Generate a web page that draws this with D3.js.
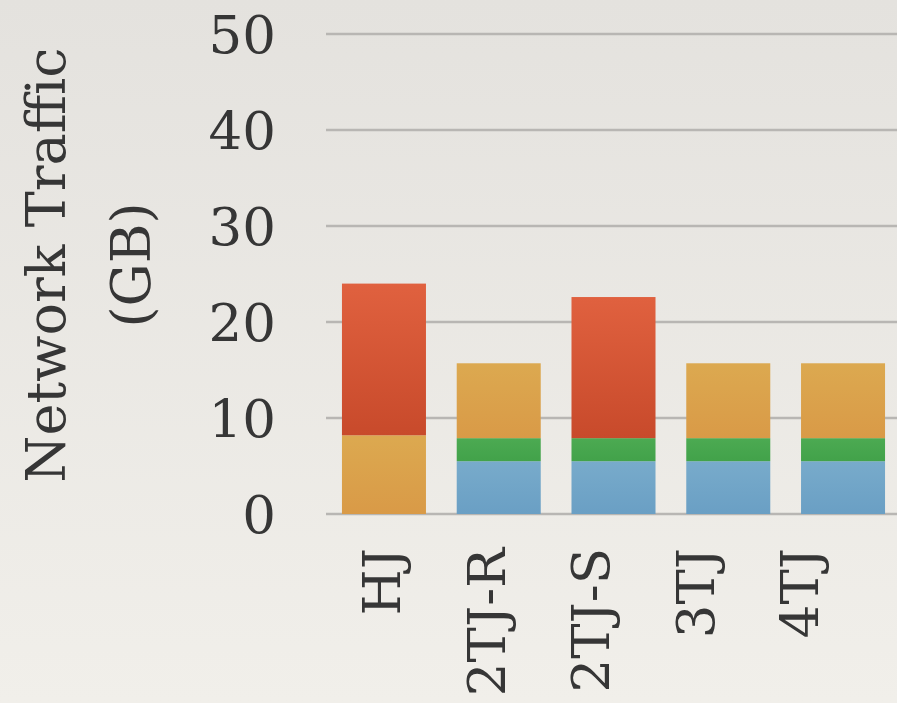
<!DOCTYPE html>
<html><head><meta charset="utf-8">
<script src="https://cdn.jsdelivr.net/npm/d3@7"></script>
<style>html,body{margin:0;padding:0;overflow:hidden;}</style>
</head><body>
<svg id="c" width="897" height="703"></svg>
<script>
const categories = ["HJ", "2TJ-R", "2TJ-S", "3TJ", "4TJ"];
const seriesNames = ["blue", "green", "orange", "red"];
const blueVals   = [0,   5.5, 5.5, 5.5, 5.5];
const greenVals  = [0,   2.4, 2.4, 2.4, 2.4];
const orangeVals = [8.2, 7.8, 0,   7.8, 7.8];
const redVals    = [15.8, 0,  14.7, 0,  0];
const yTicks = [0, 10, 20, 30, 40, 50];
const yTitle = ["Network Traffic", "(GB)"];

const svg = d3.select("#c");
const W = 897, H = 703;
const defs = svg.append("defs");
const bg = defs.append("linearGradient").attr("id","bg").attr("x1",0).attr("y1",0).attr("x2",0).attr("y2",1);
bg.append("stop").attr("offset","0%").attr("stop-color","#e4e2de");
bg.append("stop").attr("offset","100%").attr("stop-color","#f1efea");
svg.append("rect").attr("width",W).attr("height",H).attr("fill","url(#bg)");

const palette = {
  blue:["#78abcb","#6a9fc4"], green:["#4caa52","#42a24a"],
  orange:["#dca950","#d99a47"], red:["#e0613f","#c84a2b"]
};
seriesNames.forEach(s=>{
  const g = defs.append("linearGradient").attr("id","g_"+s).attr("x1",0).attr("y1",0).attr("x2",0).attr("y2",1);
  g.append("stop").attr("offset","0%").attr("stop-color",palette[s][0]);
  g.append("stop").attr("offset","100%").attr("stop-color",palette[s][1]);
});

const y = d3.scaleLinear().domain([0,50]).range([514,34]);
const x = d3.scaleBand().domain(categories).range([326, 901]).paddingInner(0.268).paddingOuter(0.139);
const xLab = d3.scalePoint().domain(categories).range([400, 818]);

const font = "'DejaVu Serif', serif";
// gridlines
svg.append("g").selectAll("line").data(yTicks).join("line")
  .attr("x1",326).attr("x2",W).attr("y1",d=>y(d)).attr("y2",d=>y(d))
  .attr("stroke","#b8b6b3").attr("stroke-width",2.5);
// y tick labels
svg.append("g").selectAll("text").data(yTicks).join("text")
  .attr("x",276).attr("y",d=>y(d)).attr("dy","0.36em")
  .attr("text-anchor","end").attr("font-family",font).attr("font-size",53)
  .attr("fill","#363636").text(d=>d);

// stacked data
const rows = categories.map((c,i)=>({cat:c, blue:blueVals[i], green:greenVals[i], orange:orangeVals[i], red:redVals[i]}));
const stack = d3.stack().keys(seriesNames)(rows);
svg.append("g").selectAll("g").data(stack).join("g")
  .attr("fill",d=>"url(#g_"+d.key+")")
  .selectAll("rect").data(d=>d.filter(p=>p[1]-p[0]>0)).join("rect")
  .attr("x",d=>x(d.data.cat)).attr("width",x.bandwidth())
  .attr("y",d=>y(d[1])).attr("height",d=>y(d[0])-y(d[1]));

// x labels
svg.append("g").selectAll("text").data(categories).join("text")
  .attr("transform",d=>`translate(${xLab(d)},548) rotate(-90)`)
  .attr("text-anchor","end").attr("font-family",font).attr("font-size",53)
  .attr("fill","#363636").text(d=>d);

// y title
svg.append("text").attr("transform","translate(65,265) rotate(-90)")
  .attr("text-anchor","middle").attr("font-family",font).attr("font-size",54)
  .attr("fill","#363636").text(yTitle[0]);
svg.append("text").attr("transform","translate(150,265) rotate(-90)")
  .attr("text-anchor","middle").attr("font-family",font).attr("font-size",54)
  .attr("fill","#363636").text(yTitle[1]);
</script>
</body></html>
